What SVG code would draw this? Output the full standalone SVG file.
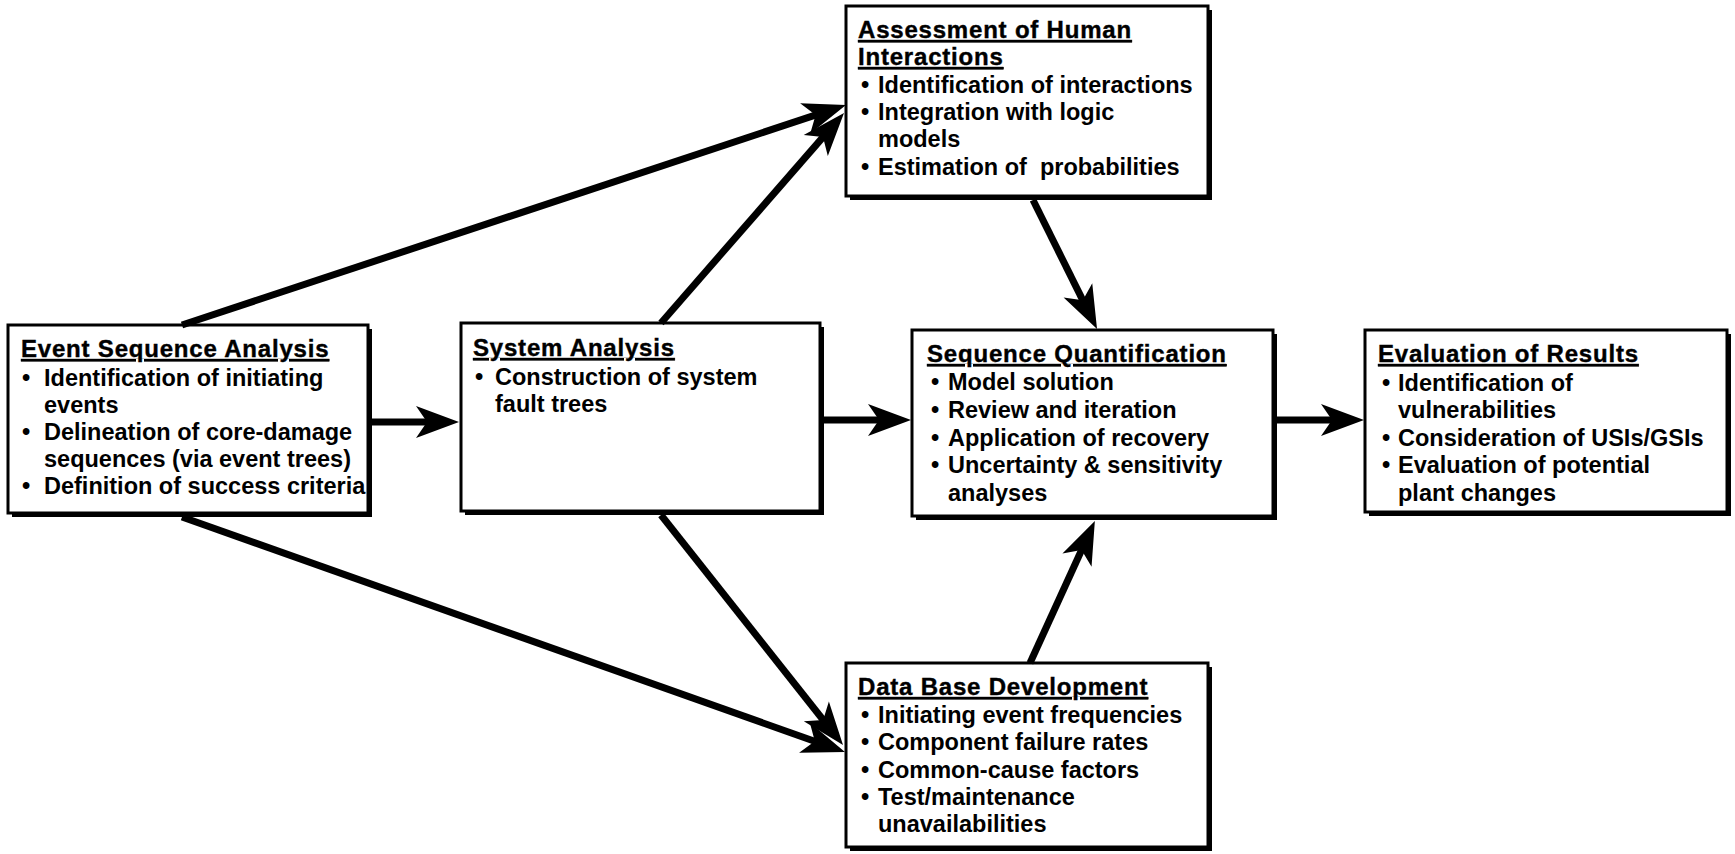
<svg xmlns="http://www.w3.org/2000/svg" width="1735" height="854" viewBox="0 0 1735 854">
  <style>
    .shadow { fill: #000; }
    .box { fill: #fff; stroke: #000; stroke-width: 3; }
    text { font-family: "Liberation Sans", Arial, Helvetica, sans-serif; font-weight: bold; font-size: 23.5px; fill: #000; }
    .title { font-size: 24px; letter-spacing: 0.8px; text-decoration: underline; stroke: #000; stroke-width: 0.4px; }
    .conn { stroke: #000; stroke-width: 7; fill: none; marker-end: url(#head); }
  </style>
  <defs>
    <marker id="head" markerUnits="userSpaceOnUse" viewBox="-46 -18 48 36" markerWidth="48" markerHeight="36" refX="-30" refY="0" orient="auto">
      <path d="M0,0 L-43,-16 L-32,0 L-43,16 Z" fill="#000"/>
    </marker>
  </defs>
  <rect width="1735" height="854" fill="#fff"/>

  <!-- Event Sequence Analysis -->
  <g id="event-sequence-analysis">
    <rect class="shadow" x="12" y="329" width="360" height="188"/>
    <rect class="box" x="8" y="325" width="360" height="188"/>
    <text class="title" x="21" y="357">Event Sequence Analysis</text>
    <text x="22" y="386">•</text><text x="44" y="386">Identification of initiating</text>
    <text x="44" y="413">events</text>
    <text x="22" y="440">•</text><text x="44" y="440">Delineation of core-damage</text>
    <text x="44" y="467">sequences (via event trees)</text>
    <text x="22" y="494">•</text><text x="44" y="494">Definition of success criteria</text>
  </g>

  <!-- System Analysis -->
  <g id="system-analysis">
    <rect class="shadow" x="465" y="327" width="359" height="188"/>
    <rect class="box" x="461" y="323" width="359" height="188"/>
    <text class="title" x="473" y="356">System Analysis</text>
    <text x="475" y="385">•</text><text x="495" y="385">Construction of system</text>
    <text x="495" y="412">fault trees</text>
  </g>

  <!-- Assessment of Human Interactions -->
  <g id="human-interactions">
    <rect class="shadow" x="850" y="10" width="362" height="190"/>
    <rect class="box" x="846" y="6" width="362" height="190"/>
    <text class="title" x="858" y="38">Assessment of Human</text>
    <text class="title" x="858" y="65">Interactions</text>
    <text x="861" y="93">•</text><text x="878" y="93">Identification of interactions</text>
    <text x="861" y="120">•</text><text x="878" y="120">Integration with logic</text>
    <text x="878" y="147">models</text>
    <text x="861" y="175">•</text><text x="878" y="175" xml:space="preserve">Estimation of  probabilities</text>
  </g>

  <!-- Sequence Quantification -->
  <g id="sequence-quantification">
    <rect class="shadow" x="916" y="334" width="361" height="186"/>
    <rect class="box" x="912" y="330" width="361" height="186"/>
    <text class="title" x="927" y="362">Sequence Quantification</text>
    <text x="931" y="390">•</text><text x="948" y="390">Model solution</text>
    <text x="931" y="418">•</text><text x="948" y="418">Review and iteration</text>
    <text x="931" y="446">•</text><text x="948" y="446">Application of recovery</text>
    <text x="931" y="473">•</text><text x="948" y="473">Uncertainty &amp; sensitivity</text>
    <text x="948" y="501">analyses</text>
  </g>

  <!-- Evaluation of Results -->
  <g id="evaluation-of-results">
    <rect class="shadow" x="1369" y="334" width="362" height="182"/>
    <rect class="box" x="1365" y="330" width="362" height="182"/>
    <text class="title" x="1378" y="362">Evaluation of Results</text>
    <text x="1382" y="391">•</text><text x="1398" y="391">Identification of</text>
    <text x="1398" y="418">vulnerabilities</text>
    <text x="1382" y="446">•</text><text x="1398" y="446">Consideration of USIs/GSIs</text>
    <text x="1382" y="473">•</text><text x="1398" y="473">Evaluation of potential</text>
    <text x="1398" y="501">plant changes</text>
  </g>

  <!-- Data Base Development -->
  <g id="data-base-development">
    <rect class="shadow" x="850" y="667" width="362" height="184"/>
    <rect class="box" x="846" y="663" width="362" height="184"/>
    <text class="title" x="858" y="695">Data Base Development</text>
    <text x="861" y="723">•</text><text x="878" y="723">Initiating event frequencies</text>
    <text x="861" y="750">•</text><text x="878" y="750">Component failure rates</text>
    <text x="861" y="778">•</text><text x="878" y="778">Common-cause factors</text>
    <text x="861" y="805">•</text><text x="878" y="805">Test/maintenance</text>
    <text x="878" y="832">unavailabilities</text>
  </g>

  <!-- Connectors: each line stops where its arrowhead notch sits -->
  <g id="connectors">
    <line class="conn" x1="182" y1="325" x2="817.5" y2="114.4"/>
    <line class="conn" x1="661" y1="323" x2="824.3" y2="135.6"/>
    <line class="conn" x1="372" y1="422" x2="429" y2="422"/>
    <line class="conn" x1="824" y1="420" x2="881" y2="420"/>
    <line class="conn" x1="1277" y1="420" x2="1334" y2="420"/>
    <line class="conn" x1="1033" y1="200" x2="1083.7" y2="302.1"/>
    <line class="conn" x1="1030" y1="663" x2="1082.4" y2="548.2"/>
    <line class="conn" x1="182" y1="517" x2="816.7" y2="742"/>
    <line class="conn" x1="661" y1="515" x2="824.4" y2="721.5"/>
  </g>
</svg>
